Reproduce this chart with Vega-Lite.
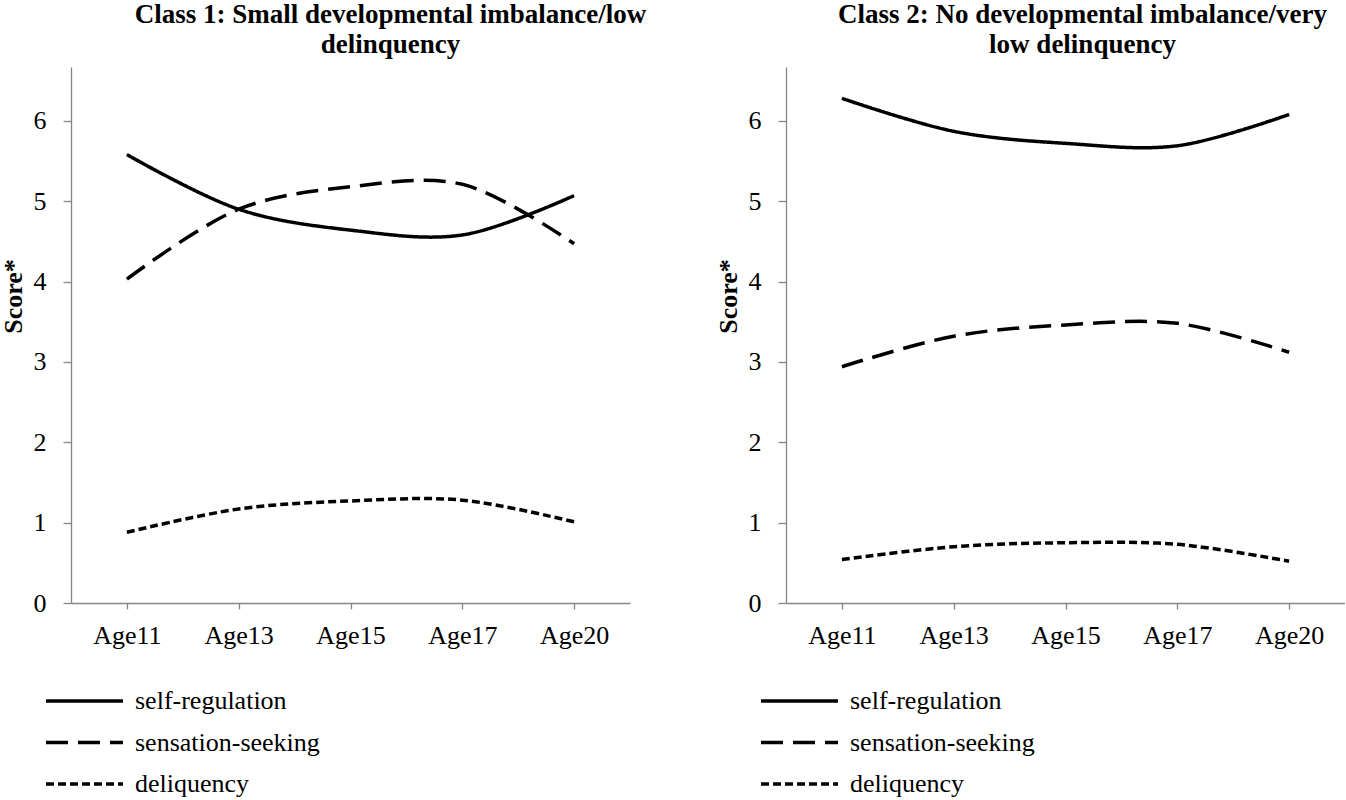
{
  "$schema": "https://vega.github.io/schema/vega-lite/v6.json",
  "background": "white",
  "padding": {"left": 0, "top": 1, "right": 0, "bottom": 0},
  "datasets": {
    "class1": [
      {"age": "Age11", "series": "self-regulation", "score": 5.58},
      {"age": "Age13", "series": "self-regulation", "score": 4.9},
      {"age": "Age15", "series": "self-regulation", "score": 4.64},
      {"age": "Age17", "series": "self-regulation", "score": 4.58},
      {"age": "Age20", "series": "self-regulation", "score": 5.07},
      {"age": "Age11", "series": "sensation-seeking", "score": 4.03},
      {"age": "Age13", "series": "sensation-seeking", "score": 4.9},
      {"age": "Age15", "series": "sensation-seeking", "score": 5.18},
      {"age": "Age17", "series": "sensation-seeking", "score": 5.21},
      {"age": "Age20", "series": "sensation-seeking", "score": 4.47},
      {"age": "Age11", "series": "deliquency", "score": 0.88},
      {"age": "Age13", "series": "deliquency", "score": 1.17},
      {"age": "Age15", "series": "deliquency", "score": 1.27},
      {"age": "Age17", "series": "deliquency", "score": 1.28},
      {"age": "Age20", "series": "deliquency", "score": 1.01}
    ],
    "class2": [
      {"age": "Age11", "series": "self-regulation", "score": 6.28},
      {"age": "Age13", "series": "self-regulation", "score": 5.87},
      {"age": "Age15", "series": "self-regulation", "score": 5.72},
      {"age": "Age17", "series": "self-regulation", "score": 5.69},
      {"age": "Age20", "series": "self-regulation", "score": 6.08},
      {"age": "Age11", "series": "sensation-seeking", "score": 2.94},
      {"age": "Age13", "series": "sensation-seeking", "score": 3.32},
      {"age": "Age15", "series": "sensation-seeking", "score": 3.46},
      {"age": "Age17", "series": "sensation-seeking", "score": 3.48},
      {"age": "Age20", "series": "sensation-seeking", "score": 3.12},
      {"age": "Age11", "series": "deliquency", "score": 0.54},
      {"age": "Age13", "series": "deliquency", "score": 0.7},
      {"age": "Age15", "series": "deliquency", "score": 0.75},
      {"age": "Age17", "series": "deliquency", "score": 0.73},
      {"age": "Age20", "series": "deliquency", "score": 0.52}
    ]
  },
  "config": {
    "view": {"stroke": null},
    "font": "Liberation Serif",
    "axis": {
      "domainColor": "#868686",
      "domainWidth": 1.3,
      "tickColor": "#868686",
      "tickWidth": 1.3,
      "labelFont": "Liberation Serif",
      "labelFontSize": 26,
      "labelColor": "black",
      "titleFont": "Liberation Serif",
      "titleFontSize": 26,
      "titleColor": "black",
      "grid": false
    },
    "title": {
      "font": "Liberation Serif",
      "fontSize": 27,
      "fontWeight": "bold",
      "color": "black",
      "lineHeight": 30,
      "anchor": "middle"
    },
    "legend": {
      "orient": "none",
      "legendX": -27,
      "legendY": 614,
      "direction": "vertical",
      "symbolType": "stroke",
      "symbolSize": 5929,
      "symbolStrokeWidth": 3.5,
      "symbolStrokeColor": "black",
      "labelFont": "Liberation Serif",
      "labelFontSize": 26,
      "labelColor": "black",
      "labelOffset": 10,
      "labelLimit": 0,
      "clipHeight": 40,
      "rowPadding": 1.5,
      "padding": 0,
      "title": null
    },
    "line": {"interpolate": "catmull-rom", "color": "black", "strokeWidth": 3.5}
  },
  "spacing": 68,
  "resolve": {"legend": {"strokeDash": "independent"}},
  "hconcat": [
    {
      "data": {"name": "class1"},
      "width": 559,
      "height": 536,
      "title": {"text": ["Class 1: Small developmental imbalance/low", "delinquency"], "dx": 40, "offset": 8},
      "mark": "line",
      "encoding": {
        "x": {"field": "age", "type": "nominal", "sort": ["Age11", "Age13", "Age15", "Age17", "Age20"],
          "scale": {"type": "point", "padding": 0.5},
          "axis": {"title": null, "labelAngle": 0, "tickSize": 6, "labelPadding": 13}
        },
        "y": {"field": "score", "type": "quantitative",
          "scale": {"domain": [0, 6.67], "nice": false},
          "axis": {"values": [0, 1, 2, 3, 4, 5, 6], "title": "Score*", "titleFontWeight": "bold", "tickSize": 8, "labelPadding": 17, "titlePadding": 7, "titleY": 229}
        },
        "strokeDash": {"field": "series", "type": "nominal",
          "scale": {"domain": ["self-regulation", "sensation-seeking", "deliquency"], "range": [[1, 0], [22, 10], [8, 4]]}
        }
      }
    },
    {
      "data": {"name": "class2"},
      "width": 559,
      "height": 536,
      "title": {"text": ["Class 2: No developmental imbalance/very", "low delinquency"], "dx": 17, "offset": 8},
      "mark": "line",
      "encoding": {
        "x": {"field": "age", "type": "nominal", "sort": ["Age11", "Age13", "Age15", "Age17", "Age20"],
          "scale": {"type": "point", "padding": 0.5},
          "axis": {"title": null, "labelAngle": 0, "tickSize": 6, "labelPadding": 13}
        },
        "y": {"field": "score", "type": "quantitative",
          "scale": {"domain": [0, 6.67], "nice": false},
          "axis": {"values": [0, 1, 2, 3, 4, 5, 6], "title": "Score*", "titleFontWeight": "bold", "tickSize": 8, "labelPadding": 17, "titlePadding": 7, "titleY": 229}
        },
        "strokeDash": {"field": "series", "type": "nominal",
          "scale": {"domain": ["self-regulation", "sensation-seeking", "deliquency"], "range": [[1, 0], [22, 10], [8, 4]]}
        }
      }
    }
  ]
}
